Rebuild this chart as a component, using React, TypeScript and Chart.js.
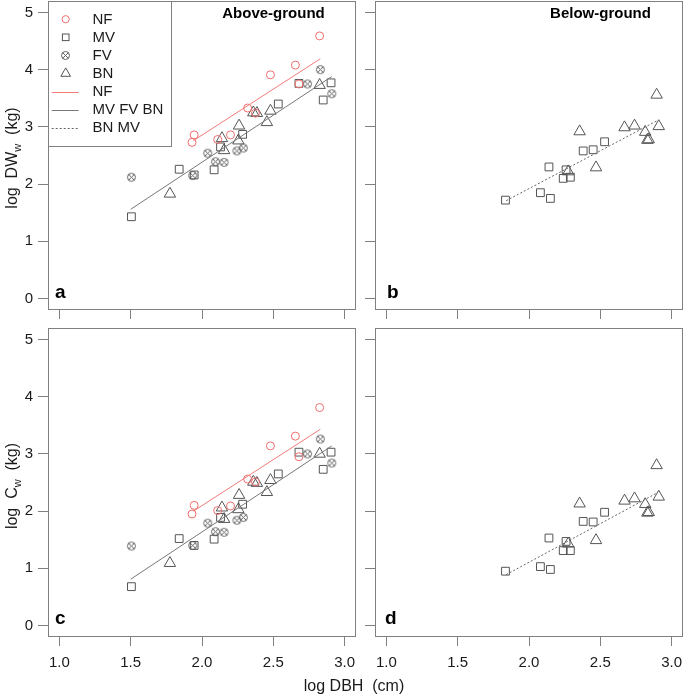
import React, { useEffect, useRef } from 'react';
import { Chart, registerables } from 'chart.js';

Chart.register(...registerables);

const CANVAS_W = 685;
const CANVAS_H = 696;
const FONT = '"Liberation Sans", Arial, Helvetica, sans-serif';

// ---- Axis ticks and limits ----
const xTicks = [1.0, 1.5, 2.0, 2.5, 3.0];
const yTicks = [0, 1, 2, 3, 4, 5];
const xLimits = [0.92, 3.08];
const yLimits = [-0.2, 5.2];

// ---- Above-ground sample trees (panels a, c) ----
const nfDbh = [1.93, 1.945, 2.11, 2.2, 2.32, 2.375, 2.48, 2.655, 2.68, 2.825];
const nfDW = [2.73, 2.86, 2.78, 2.86, 3.33, 3.24, 3.91, 4.08, 3.75, 4.59];
const nfC = [1.95, 2.1, 2.01, 2.09, 2.56, 2.51, 3.14, 3.31, 2.95, 3.81];

const mvDbh = [1.505, 1.84, 1.945, 2.085, 2.13, 2.285, 2.535, 2.68, 2.85, 2.905];
const mvDW = [1.43, 2.26, 2.16, 2.25, 2.65, 2.87, 3.4, 3.76, 3.47, 3.77];
const mvC = [0.68, 1.52, 1.4, 1.51, 1.89, 2.12, 2.65, 3.03, 2.73, 3.03];

const fvDbh = [1.505, 1.935, 2.04, 2.095, 2.155, 2.245, 2.29, 2.74, 2.83, 2.91];
const fvDW = [2.12, 2.15, 2.54, 2.39, 2.38, 2.58, 2.63, 3.75, 4.0, 3.58];
const fvC = [1.39, 1.4, 1.79, 1.64, 1.63, 1.84, 1.89, 3.0, 3.26, 2.84];

const bnDbh = [1.775, 2.14, 2.155, 2.26, 2.255, 2.36, 2.385, 2.455, 2.48, 2.825];
const bnDW = [1.83, 2.8, 2.59, 3.02, 2.76, 3.25, 3.24, 3.08, 3.28, 3.73];
const bnC = [1.09, 2.06, 1.86, 2.28, 2.03, 2.51, 2.49, 2.33, 2.54, 3.0];

// ---- Below-ground sample trees (panels b, d) ----
const mvRootDbh = [1.835, 2.08, 2.15, 2.14, 2.24, 2.26, 2.29, 2.38, 2.45, 2.53];
const mvRootDW = [1.72, 1.85, 1.75, 2.3, 2.1, 2.25, 2.12, 2.58, 2.6, 2.74];
const mvRootC = [0.95, 1.03, 0.98, 1.53, 1.31, 1.47, 1.31, 1.82, 1.81, 1.98];

const bnRootDbh = [2.355, 2.275, 2.47, 2.67, 2.74, 2.815, 2.83, 2.84, 2.895, 2.91];
const bnRootDW = [2.92, 2.22, 2.29, 2.99, 3.02, 2.91, 2.77, 2.78, 3.56, 3.01];
const bnRootC = [2.13, 1.43, 1.49, 2.18, 2.22, 2.12, 1.97, 1.98, 2.8, 2.25];

// ---- Fitted regression lines (end points) ----
const fitNF_X = [1.94, 2.83];
const fitNF_DW = [2.76, 4.19];
const fitNF_C = [2.0, 3.43];
const fitPooled_X = [1.5, 2.91];
const fitPooled_DW = [1.56, 3.88];
const fitPooled_C = [0.81, 3.14];
const fitRoot_X = [1.84, 2.9];
const fitRoot_DW = [1.71, 3.11];
const fitRoot_C = [0.89, 2.32];

// ---- Styles ----
const RED = '#F06E6E';
const RED_LINE = '#F27A7A';
const GREY_PT = '#555555';
const GREY_FV = '#606060';
const GREY_LINE = '#777777';
const DASH_LINE = '#666666';
const FRAME = '#808080';
const TEXT = '#1a1a1a';

let fvImage: HTMLCanvasElement | null = null;
function getFvImage(): HTMLCanvasElement {
  if (fvImage) return fvImage;
  const c = document.createElement('canvas');
  c.width = 11;
  c.height = 11;
  const g = c.getContext('2d')!;
  g.strokeStyle = GREY_FV;
  g.lineWidth = 1;
  g.beginPath();
  g.arc(5.5, 5.5, 4, 0, Math.PI * 2);
  g.stroke();
  g.beginPath();
  g.moveTo(2.7, 2.7);
  g.lineTo(8.3, 8.3);
  g.moveTo(8.3, 2.7);
  g.lineTo(2.7, 8.3);
  g.stroke();
  fvImage = c;
  return c;
}

const pts = (xs: number[], ys: number[]) => xs.map((x, i) => ({ x, y: ys[i] }));

function scatterSet(label: string, xs: number[], ys: number[], style: any, radius: number, color: string) {
  return {
    label,
    data: pts(xs, ys),
    pointStyle: style,
    pointRadius: radius,
    pointBorderColor: color,
    pointBackgroundColor: 'rgba(0,0,0,0)',
    pointBorderWidth: 1,
    showLine: false,
    clip: false,
  };
}

function lineSet(label: string, xs: number[], ys: number[], color: string, dash: number[] = []) {
  return {
    label,
    data: pts(xs, ys),
    showLine: true,
    borderColor: color,
    borderWidth: 1,
    borderDash: dash,
    pointRadius: 0,
    fill: false,
  };
}

type Spec = {
  left: number; top: number; right: number; bottom: number;
  yLabels: boolean; xLabels: boolean;
  letter: string; letterBaselineOffset: number; letterLeft: number;
  heading?: string;
  yTitle?: { main: string; sub: string; tail: string; cy: number };
  xTitle?: boolean;
  legend?: boolean;
  datasets: () => any[];
};

function drawYTitle(ctx: CanvasRenderingContext2D, t: { main: string; sub: string; tail: string; cy: number }) {
  ctx.save();
  ctx.translate(17, t.cy);
  ctx.rotate(-Math.PI / 2);
  const fMain = `16px ${FONT}`;
  const fSub = `11px ${FONT}`;
  ctx.font = fMain;
  const w1 = ctx.measureText(t.main).width;
  const w3 = ctx.measureText(t.tail).width;
  ctx.font = fSub;
  const w2 = ctx.measureText(t.sub).width;
  let x = -(w1 + w2 + w3) / 2;
  ctx.fillStyle = TEXT;
  ctx.textBaseline = 'alphabetic';
  ctx.textAlign = 'left';
  ctx.font = fMain;
  ctx.fillText(t.main, x, 0);
  x += w1;
  ctx.font = fSub;
  ctx.fillText(t.sub, x, 4);
  x += w2;
  ctx.font = fMain;
  ctx.fillText(t.tail, x, 0);
  ctx.restore();
}

function drawLegend(ctx: CanvasRenderingContext2D, left: number, top: number) {
  ctx.save();
  ctx.strokeStyle = FRAME;
  ctx.lineWidth = 1;
  ctx.strokeRect(Math.round(left) + 0.5, Math.round(top) + 0.5, 123, 145);
  const sx = 65.7;
  const tx = 92.5;
  const row = (i: number) => 19.2 + i * 18.1;
  ctx.font = `15px ${FONT}`;
  ctx.textBaseline = 'middle';
  ctx.textAlign = 'left';
  const labels = ['NF', 'MV', 'FV', 'BN', 'NF', 'MV FV BN', 'BN MV'];
  labels.forEach((l, i) => {
    ctx.fillStyle = TEXT;
    ctx.fillText(l, tx, row(i) + 0.5);
  });
  ctx.lineWidth = 1;
  // NF circle
  ctx.strokeStyle = RED;
  ctx.beginPath();
  ctx.arc(sx, row(0), 3.6, 0, Math.PI * 2);
  ctx.stroke();
  // MV square
  ctx.strokeStyle = GREY_PT;
  ctx.strokeRect(sx - 3.3, row(1) - 3.3, 6.6, 6.6);
  // FV
  const img = getFvImage();
  ctx.drawImage(img, Math.round(sx - img.width / 2), Math.round(row(2) - img.height / 2));
  // BN triangle
  ctx.strokeStyle = GREY_PT;
  ctx.beginPath();
  const r = 5.6;
  ctx.moveTo(sx, row(3) - r);
  ctx.lineTo(sx + r * 0.866, row(3) + r * 0.5);
  ctx.lineTo(sx - r * 0.866, row(3) + r * 0.5);
  ctx.closePath();
  ctx.stroke();
  // lines
  const lx0 = 51.7, lx1 = 78.7;
  const lines: [string, number[]][] = [[RED_LINE, []], [GREY_LINE, []], [DASH_LINE, [2, 2]]];
  lines.forEach(([c, d], k) => {
    ctx.strokeStyle = c;
    ctx.setLineDash(d);
    const y = Math.round(row(4 + k)) + 0.5;
    ctx.beginPath();
    ctx.moveTo(lx0, y);
    ctx.lineTo(lx1, y);
    ctx.stroke();
  });
  ctx.restore();
}

function buildConfig(spec: Spec): any {
  const yW = spec.yLabels ? 40 : 12;
  const xH = spec.xLabels ? 40 : 12;
  const decor = {
    id: 'decor',
    afterDraw(chart: any) {
      const ctx: CanvasRenderingContext2D = chart.ctx;
      const ca = chart.chartArea;
      ctx.save();
      ctx.strokeStyle = FRAME;
      ctx.lineWidth = 1;
      ctx.strokeRect(Math.round(ca.left) + 0.5, Math.round(ca.top) + 0.5, Math.round(ca.right - ca.left) - 1, Math.round(ca.bottom - ca.top) - 1);
      ctx.fillStyle = '#000';
      ctx.font = `bold 19px ${FONT}`;
      ctx.textAlign = 'left';
      ctx.textBaseline = 'alphabetic';
      ctx.fillText(spec.letter, spec.letterLeft, ca.bottom - spec.letterBaselineOffset);
      if (spec.heading) {
        ctx.font = `bold 15px ${FONT}`;
        ctx.textAlign = 'center';
        ctx.fillText(spec.heading, ca.left + 225.5, 17.5);
      }
      if (spec.yTitle) drawYTitle(ctx, spec.yTitle);
      if (spec.xTitle) {
        ctx.font = `16px ${FONT}`;
        ctx.fillStyle = TEXT;
        ctx.textAlign = 'center';
        ctx.fillText('log DBH  (cm)', 354, 691);
      }
      if (spec.legend) drawLegend(ctx, ca.left, ca.top);
      ctx.restore();
    },
  };
  return {
    type: 'scatter',
    data: { datasets: spec.datasets() },
    plugins: [decor],
    options: {
      responsive: false,
      animation: false,
      devicePixelRatio: 1,
      events: [],
      layout: {
        autoPadding: false,
        padding: {
          left: spec.left - yW,
          right: CANVAS_W - spec.right,
          top: spec.top,
          bottom: CANVAS_H - spec.bottom - xH,
        },
      },
      plugins: { legend: { display: false }, tooltip: { enabled: false } },
      scales: {
        x: {
          type: 'linear',
          position: 'bottom',
          min: xLimits[0],
          max: xLimits[1],
          afterBuildTicks: (s: any) => { s.ticks = xTicks.map((v) => ({ value: v })); },
          afterFit: (s: any) => { s.height = xH; s.paddingLeft = 0; s.paddingRight = 0; },
          ticks: {
            display: spec.xLabels,
            autoSkip: false,
            maxRotation: 0,
            padding: 8,
            color: TEXT,
            font: { family: FONT, size: 15 },
            callback: (v: any) => Number(v).toFixed(1),
          },
          grid: { display: true, drawOnChartArea: false, drawTicks: true, tickLength: 9, color: FRAME, lineWidth: 1 },
          border: { display: false },
        },
        y: {
          type: 'linear',
          position: 'left',
          min: yLimits[0],
          max: yLimits[1],
          afterBuildTicks: (s: any) => { s.ticks = yTicks.map((v) => ({ value: v })); },
          afterFit: (s: any) => { s.width = yW; s.paddingTop = 0; s.paddingBottom = 0; },
          ticks: {
            display: spec.yLabels,
            autoSkip: false,
            padding: 5,
            color: TEXT,
            font: { family: FONT, size: 15 },
            callback: (v: any) => String(v),
          },
          grid: { display: true, drawOnChartArea: false, drawTicks: true, tickLength: 10, color: FRAME, lineWidth: 1 },
          border: { display: false },
        },
      },
    },
  };
}

const specs: Spec[] = [
  {
    left: 48, top: 1, right: 356, bottom: 310, yLabels: true, xLabels: false,
    letter: 'a', letterBaselineOffset: 11.7, letterLeft: 55, heading: 'Above-ground',
    yTitle: { main: 'log  DW', sub: 'w', tail: '  (kg)', cy: 158 }, legend: true,
    datasets: () => [
      lineSet('NF fit', fitNF_X, fitNF_DW, RED_LINE),
      lineSet('MV FV BN fit', fitPooled_X, fitPooled_DW, GREY_LINE),
      scatterSet('NF', nfDbh, nfDW, 'circle', 4, RED),
      scatterSet('MV', mvDbh, mvDW, 'rect', 5.5, GREY_PT),
      scatterSet('FV', fvDbh, fvDW, getFvImage(), 4, GREY_FV),
      scatterSet('BN', bnDbh, bnDW, 'triangle', 6.6, GREY_PT),
    ],
  },
  {
    left: 375, top: 1, right: 683, bottom: 310, yLabels: false, xLabels: false,
    letter: 'b', letterBaselineOffset: 11.7, letterLeft: 387, heading: 'Below-ground',
    datasets: () => [
      lineSet('BN MV fit', fitRoot_X, fitRoot_DW, DASH_LINE, [2, 2]),
      scatterSet('MV', mvRootDbh, mvRootDW, 'rect', 5.5, GREY_PT),
      scatterSet('BN', bnRootDbh, bnRootDW, 'triangle', 6.6, GREY_PT),
    ],
  },
  {
    left: 48, top: 328, right: 356, bottom: 637, yLabels: true, xLabels: true,
    letter: 'c', letterBaselineOffset: 13.5, letterLeft: 55,
    yTitle: { main: 'log  C', sub: 'w', tail: '  (kg)', cy: 486 }, xTitle: true,
    datasets: () => [
      lineSet('NF fit', fitNF_X, fitNF_C, RED_LINE),
      lineSet('MV FV BN fit', fitPooled_X, fitPooled_C, GREY_LINE),
      scatterSet('NF', nfDbh, nfC, 'circle', 4, RED),
      scatterSet('MV', mvDbh, mvC, 'rect', 5.5, GREY_PT),
      scatterSet('FV', fvDbh, fvC, getFvImage(), 4, GREY_FV),
      scatterSet('BN', bnDbh, bnC, 'triangle', 6.6, GREY_PT),
    ],
  },
  {
    left: 375, top: 328, right: 683, bottom: 637, yLabels: false, xLabels: true,
    letter: 'd', letterBaselineOffset: 13.5, letterLeft: 385,
    datasets: () => [
      lineSet('BN MV fit', fitRoot_X, fitRoot_C, DASH_LINE, [2, 2]),
      scatterSet('MV', mvRootDbh, mvRootC, 'rect', 5.5, GREY_PT),
      scatterSet('BN', bnRootDbh, bnRootC, 'triangle', 6.6, GREY_PT),
    ],
  },
];

function Panel({ spec }: { spec: Spec }) {
  const ref = useRef<HTMLCanvasElement>(null);
  useEffect(() => {
    const chart = new Chart(ref.current!, buildConfig(spec));
    return () => chart.destroy();
  }, [spec]);
  return (
    <canvas
      ref={ref}
      width={CANVAS_W}
      height={CANVAS_H}
      style={{ position: 'absolute', left: 0, top: 0, width: CANVAS_W, height: CANVAS_H }}
    />
  );
}

export default function App() {
  return (
    <div style={{ position: 'absolute', left: 0, top: 0, width: CANVAS_W, height: CANVAS_H, background: '#fff' }}>
      {specs.map((s, i) => (
        <Panel key={i} spec={s} />
      ))}
    </div>
  );
}
